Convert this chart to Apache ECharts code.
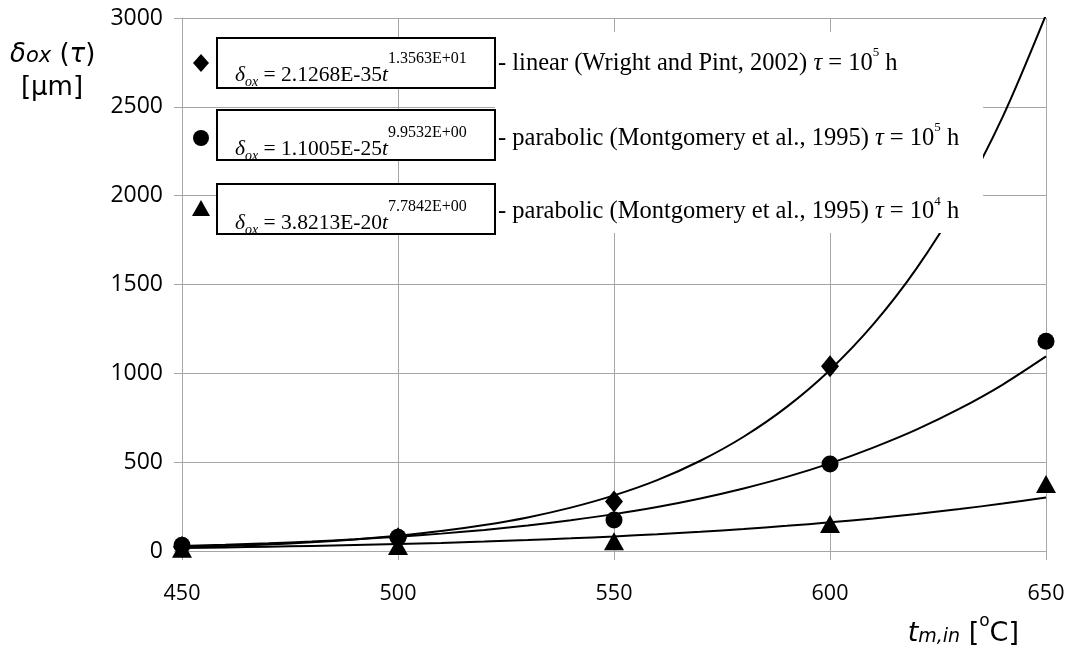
<!DOCTYPE html>
<html>
<head>
<meta charset="utf-8">
<script src="https://cdn.jsdelivr.net/npm/echarts@6/dist/echarts.min.js"></script>
<style>
  html, body { margin: 0; padding: 0; background: #fff; }
  #chart { width: 1070px; height: 651px; }
</style>
</head>
<body>
<div id="chart"></div>
<script>
// Oxide scale thickness vs. metal inner-surface temperature
const xTicks = [450, 500, 550, 600, 650];
const yTicks = [0, 500, 1000, 1500, 2000, 2500, 3000];

// Power-law trend curves, sampled every 10 °C
const curveTemps = [450, 460, 470, 480, 490, 500, 510, 520, 530, 540, 550,
                    560, 570, 580, 590, 600, 610, 620, 630, 640, 650];
const linearCurve = [20.6, 27.7, 37.1, 49.4, 65.4, 86.0, 112, 146, 189, 244, 313,
                     399, 508, 643, 811, 1019, 1275, 1589, 1974, 2445, 3018];
const parabolic5Curve = [28.1, 35.0, 43.4, 53.5, 65.7, 80.3, 97.8, 118.6, 143.5, 173, 207.5,
                         248, 296, 352, 417, 493, 582, 683, 801, 937, 1095];
const parabolic4Curve = [17.2, 20.4, 24.1, 28.4, 33.3, 39.0, 45.6, 53.0, 61.5, 71.1, 82.0,
                         94.3, 108.3, 124.0, 141.6, 161.4, 183.6, 208.3, 236, 267, 301];

// Computed points
const pointTemps = [450, 500, 550, 600, 650];
const linearPoints = [22, 72, 278, 1040, null];
const parabolic5Points = [33, 78, 175, 490, 1180];
const parabolic4Points = [12, 28, 55, 152, 377];

// Fitted equations and their descriptions
const fitCoefs = ['2.1268E-35', '1.1005E-25', '3.8213E-20'];
const fitExps = ['1.3563E+01', '9.9532E+00', '7.7842E+00'];
const fitNames = ['- linear (Wright and Pint, 2002) ',
                  '- parabolic (Montgomery et al., 1995) ',
                  '- parabolic (Montgomery et al., 1995) '];
const fitHours = ['5', '5', '4'];

const pair = (xs, ys) => xs.map((x, i) => [x, ys[i]]).filter(p => p[1] != null);

const SANS = '"Open Sans", "DejaVu Sans", sans-serif';
const TITLE_SANS = '"DejaVu Sans", Verdana, sans-serif';
const SERIF = '"Liberation Serif", "Times New Roman", serif';
const GRID_COLOR = '#a6a6a6';

const chart = echarts.init(document.getElementById('chart'));

function curve(ys) {
  return {
    type: 'line', data: pair(curveTemps, ys), smooth: 0.3, showSymbol: false,
    lineStyle: { color: '#000', width: 2 }, z: 2, silent: true
  };
}
function points(ys, symbol, size) {
  return {
    type: 'scatter', data: pair(pointTemps, ys), symbol: symbol, symbolSize: size,
    itemStyle: { color: '#000', opacity: 1 }, z: 3, silent: true
  };
}

// Rich styles: tokens are centred on the line; padding shifts sub/superscripts
const tok = (family, size, extra) => Object.assign(
  { fontFamily: family, fontSize: size, lineHeight: Math.round(size * 1.15),
    verticalAlign: 'middle', color: '#000' }, extra || {});

const eqRich = {
  n:   tok(SERIF, 21.5),
  i:   tok(SERIF, 21.5, { fontStyle: 'italic' }),
  sub: tok(SERIF, 14, { fontStyle: 'italic', padding: [13, 0, 0, 0] }),
  sup: tok(SERIF, 16, { padding: [0, 0, 34, 0] })
};
const descRich = {
  n:   tok(SERIF, 24.5),
  i:   tok(SERIF, 24.5, { fontStyle: 'italic' }),
  sup: tok(SERIF, 13, { padding: [0, 0, 21, 0] })
};

const rows = [
  { y: 38,  sym: 'diamond',  eqBase: 44.7, descBase: 33.7 },
  { y: 110, sym: 'circle',   eqBase: 46.7, descBase: 36.7 },
  { y: 184, sym: 'triangle', eqBase: 46.7, descBase: 36.0 }
];

const graphics = [
  // blank area behind the descriptions
  { type: 'rect', shape: { x: 495, y: 32, width: 488, height: 201 },
    style: { fill: '#fff' }, z: 50, silent: true }
];
rows.forEach((r, k) => {
  graphics.push({
    type: 'rect', shape: { x: 217, y: r.y, width: 278, height: 50 },
    style: { fill: '#fff', stroke: '#000', lineWidth: 2 }, z: 60, silent: true
  });
  if (r.sym === 'circle') {
    graphics.push({ type: 'circle', shape: { cx: 201, cy: r.y + 28, r: 8 },
      style: { fill: '#000' }, z: 60, silent: true });
  } else if (r.sym === 'diamond') {
    graphics.push({ type: 'polygon', shape: { points: [[201, r.y + 16], [209, r.y + 25], [201, r.y + 34], [193, r.y + 25]] },
      style: { fill: '#000' }, z: 60, silent: true });
  } else {
    graphics.push({ type: 'polygon', shape: { points: [[201, r.y + 16], [210, r.y + 32], [192, r.y + 32]] },
      style: { fill: '#000' }, z: 60, silent: true });
  }
  graphics.push({
    type: 'text', z: 70, silent: true,
    style: {
      x: 235, y: r.y + r.eqBase - 7.3, textAlign: 'left', textVerticalAlign: 'middle',
      text: '{i|δ}{sub|ox}{n| = ' + fitCoefs[k] + '}{i|t}{sup|' + fitExps[k] + '}',
      rich: eqRich
    }
  });
  graphics.push({
    type: 'text', z: 70, silent: true,
    style: {
      x: 498, y: r.y + r.descBase - 8.3, textAlign: 'left', textVerticalAlign: 'middle',
      text: '{n|' + fitNames[k] + '}{i|τ}{n| = 10}{sup|' + fitHours[k] + '}{n| h}',
      rich: descRich
    }
  });
});

// Axis titles
graphics.push({
  type: 'text', z: 70, silent: true,
  style: {
    x: 10, y: 55, textAlign: 'left', textVerticalAlign: 'middle',
    text: '{a|δ}{b|ox}{c| (}{a|τ}{c|)}',
    rich: {
      a: tok(TITLE_SANS, 26, { fontStyle: 'italic' }),
      b: tok(TITLE_SANS, 21, { fontStyle: 'italic', padding: [4, 0, 0, 0] }),
      c: tok(TITLE_SANS, 26)
    }
  }
});
graphics.push({
  type: 'text', z: 70, silent: true,
  style: {
    x: 52, y: 88, textAlign: 'center', textVerticalAlign: 'middle',
    text: '[μm]', font: '26px ' + TITLE_SANS, fill: '#000'
  }
});
graphics.push({
  type: 'text', z: 70, silent: true,
  style: {
    x: 1019, y: 634, textAlign: 'right', textVerticalAlign: 'middle',
    text: '{t|t}{s|m,in}{c| [}{o|o}{c|C]}',
    rich: {
      t: tok(TITLE_SANS, 27, { fontStyle: 'italic' }),
      s: tok(TITLE_SANS, 19, { fontStyle: 'italic', padding: [7, 0, 0, 0] }),
      c: tok(TITLE_SANS, 27),
      o: tok(TITLE_SANS, 17, { padding: [0, 0, 24, 0] })
    }
  }
});

chart.setOption({
  animation: false,
  backgroundColor: '#fff',
  grid: { left: 182, right: 24, top: 18, bottom: 100, containLabel: false },
  xAxis: {
    type: 'value', min: xTicks[0], max: xTicks[xTicks.length - 1], interval: 50,
    axisLine: { show: true, lineStyle: { color: GRID_COLOR, width: 1 } },
    axisTick: { show: true, inside: false, length: 9, lineStyle: { color: GRID_COLOR } },
    splitLine: { show: true, lineStyle: { color: GRID_COLOR, width: 1 } },
    axisLabel: { color: '#000', fontFamily: SANS, fontSize: 21.5, margin: 32,
                 formatter: v => String(v) }
  },
  yAxis: {
    type: 'value', min: yTicks[0], max: yTicks[yTicks.length - 1], interval: 500,
    axisLine: { show: true, lineStyle: { color: GRID_COLOR, width: 1 } },
    axisTick: { show: true, inside: false, length: 8, lineStyle: { color: GRID_COLOR } },
    splitLine: { show: true, lineStyle: { color: GRID_COLOR, width: 1 } },
    axisLabel: { color: '#000', fontFamily: SANS, fontSize: 23, margin: 19,
                 formatter: v => String(v) }
  },
  series: [
    curve(linearCurve),
    curve(parabolic5Curve),
    curve(parabolic4Curve),
    points(linearPoints, 'diamond', [18, 22]),
    points(parabolic5Points, 'circle', 17),
    points(parabolic4Points, 'triangle', [20, 18])
  ],
  graphic: graphics
});
</script>
</body>
</html>
